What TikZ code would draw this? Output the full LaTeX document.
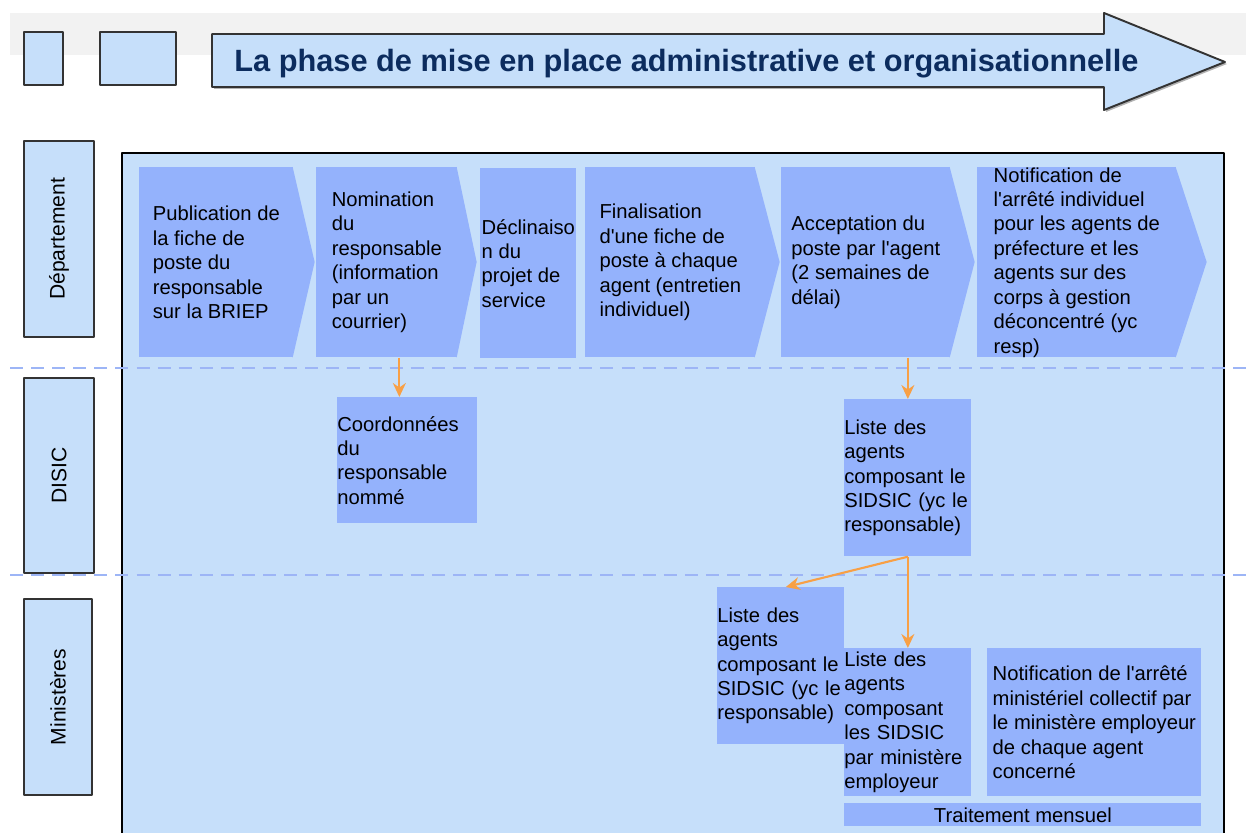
\documentclass[tikz,border=0pt]{standalone}
\usepackage{fontspec}
\setmainfont{Liberation Sans}
\usetikzlibrary{arrows.meta}
\definecolor{lanebg}{HTML}{C6DFFA}
\definecolor{stepfill}{HTML}{94B2FC}
\definecolor{dashblue}{HTML}{9DB5F6}
\definecolor{flow}{HTML}{F8A045}
\definecolor{navy}{HTML}{0C2C5E}
\definecolor{band}{HTML}{F2F2F2}
\definecolor{edge}{HTML}{333333}
\begin{document}
\begin{tikzpicture}[x=0.2mm, y=-0.2mm, line join=round,
  txt/.style={font=\fontsize{11.5}{13.9}\selectfont, align=left, inner sep=0pt},
  stepbox/.style={txt, fill=stepfill, anchor=north west},
  lane/.style={draw=edge, line width=0.9pt, fill=lanebg, rotate=90, minimum height=14mm, font=\fontsize{12}{14}\selectfont, inner sep=0pt},
  flowarr/.style={draw=flow, line width=1.2pt, -{Stealth[length=2.8mm, width=2.6mm]}},
  sep/.style={dashblue, line width=1.6pt, dash pattern=on 7.4pt off 4.6pt}]
\clip (0,0) rectangle (1246,833);
\fill[band] (10,13) rectangle (1246,55);
\draw[edge, line width=0.9pt, fill=lanebg] (24,32) rectangle (63,85);
\draw[edge, line width=0.9pt, fill=lanebg] (100,32) rectangle (176,85);
\fill[black!30, xshift=0.4mm, yshift=-0.4mm] (212,34) -- (1104,34) -- (1104,13) -- (1225,62) -- (1104,110) -- (1104,87) -- (212,87) -- cycle;
\draw[edge, line width=1.1pt, fill=lanebg] (212,34) -- (1104,34) -- (1104,13) -- (1225,62) -- (1104,110) -- (1104,87) -- (212,87) -- cycle;
\node[anchor=base west, font=\fontsize{17.5}{20}\selectfont\bfseries, text=navy, inner sep=0pt] (title) at (234,72) {La phase de mise en place administrative et organisationnelle};
\draw[black, line width=0.9pt, fill=lanebg] (122,860) -- (122,153) -- (1224,153) -- (1224,860);
\node[lane, minimum width=39.2mm] (dep) at (59,239) {Département};
\node[lane, minimum width=39mm] (disic) at (59,475.5) {DISIC};
\node[lane, minimum width=39.2mm, minimum height=13.6mm] (mins) at (58,697) {Ministères};
\node[stepbox, minimum width=30.8mm, minimum height=38mm] (pub) at (139,167) {Publication de\\la fiche de\\poste du\\responsable\\sur la BRIEP};
\fill[stepfill] ([xshift=-0.6pt]pub.north east) -- ++(22,95) -- ([xshift=-0.6pt]pub.south east) -- cycle;
\node[stepbox, minimum width=28.2mm, minimum height=38mm] (nom) at (316,167) {Nomination\\du\\responsable\\(information\\par un\\courrier)};
\fill[stepfill] ([xshift=-0.6pt]nom.north east) -- ++(20,95) -- ([xshift=-0.6pt]nom.south east) -- cycle;
\node[stepbox, minimum width=19.2mm, minimum height=38mm] (decl) at (480,168) {Déclinaiso\\n du\\projet de\\service};
\node[stepbox, minimum width=34mm, minimum height=38mm] (fin) at (585,167) {Finalisation\\d\textquotesingle une fiche de\\poste à chaque\\agent (entretien\\individuel)};
\fill[stepfill] ([xshift=-0.6pt]fin.north east) -- ++(25,95) -- ([xshift=-0.6pt]fin.south east) -- cycle;
\node[stepbox, minimum width=33.8mm, minimum height=38mm] (acc) at (781,167) {Acceptation du\\poste par l\textquotesingle agent\\(2 semaines de\\délai)};
\fill[stepfill] ([xshift=-0.6pt]acc.north east) -- ++(25,95) -- ([xshift=-0.6pt]acc.south east) -- cycle;
\node[stepbox, minimum width=39.8mm, minimum height=38mm] (notif) at (977,167) {Notification de\\l\textquotesingle arrêté individuel\\pour les agents de\\préfecture et les\\agents sur des\\corps à gestion\\déconcentré (yc\\resp)};
\fill[stepfill] ([xshift=-0.6pt]notif.north east) -- ++(31,95) -- ([xshift=-0.6pt]notif.south east) -- cycle;
\node[stepbox, text width=28mm, minimum height=25.2mm] (coord) at (337,397) {Coordonnées\\du\\responsable\\nommé};
\node[stepbox, text width=25.4mm, minimum height=31.4mm] (listeD) at (844,399) {Liste des\\agents\\composant le\\SIDSIC (yc le\\responsable)};
\node[stepbox, text width=25.4mm, minimum height=31.4mm] (listeA) at (717,587) {Liste des\\agents\\composant le\\SIDSIC (yc le\\responsable)};
\node[stepbox, text width=25.4mm, minimum height=29.6mm] (listeB) at (844,648) {Liste des\\agents\\composant\\les SIDSIC\\par ministère\\employeur};
\node[stepbox, minimum width=42.8mm, minimum height=29.6mm] (notifM) at (987,648) {Notification de l\textquotesingle arrêté\\ministériel collectif par\\le ministère employeur\\de chaque agent\\concerné};
\node[stepbox, align=center, minimum width=71.4mm, minimum height=4.6mm] (trait) at (844,803) {Traitement mensuel};
\draw[sep] (10,368) -- (1246,368);
\draw[sep] (10,575) -- (1246,575);
\draw[flowarr] ([xshift=2.5mm]nom.south) -- ([xshift=2.5mm]nom.south |- coord.north);
\draw[flowarr] (acc.south -| listeD.north) -- (listeD.north);
\draw[flowarr] (listeD.south) -- ([xshift=1mm]listeA.north);
\draw[flowarr] (listeD.south) -- (listeB.north);
\end{tikzpicture}
\end{document}
